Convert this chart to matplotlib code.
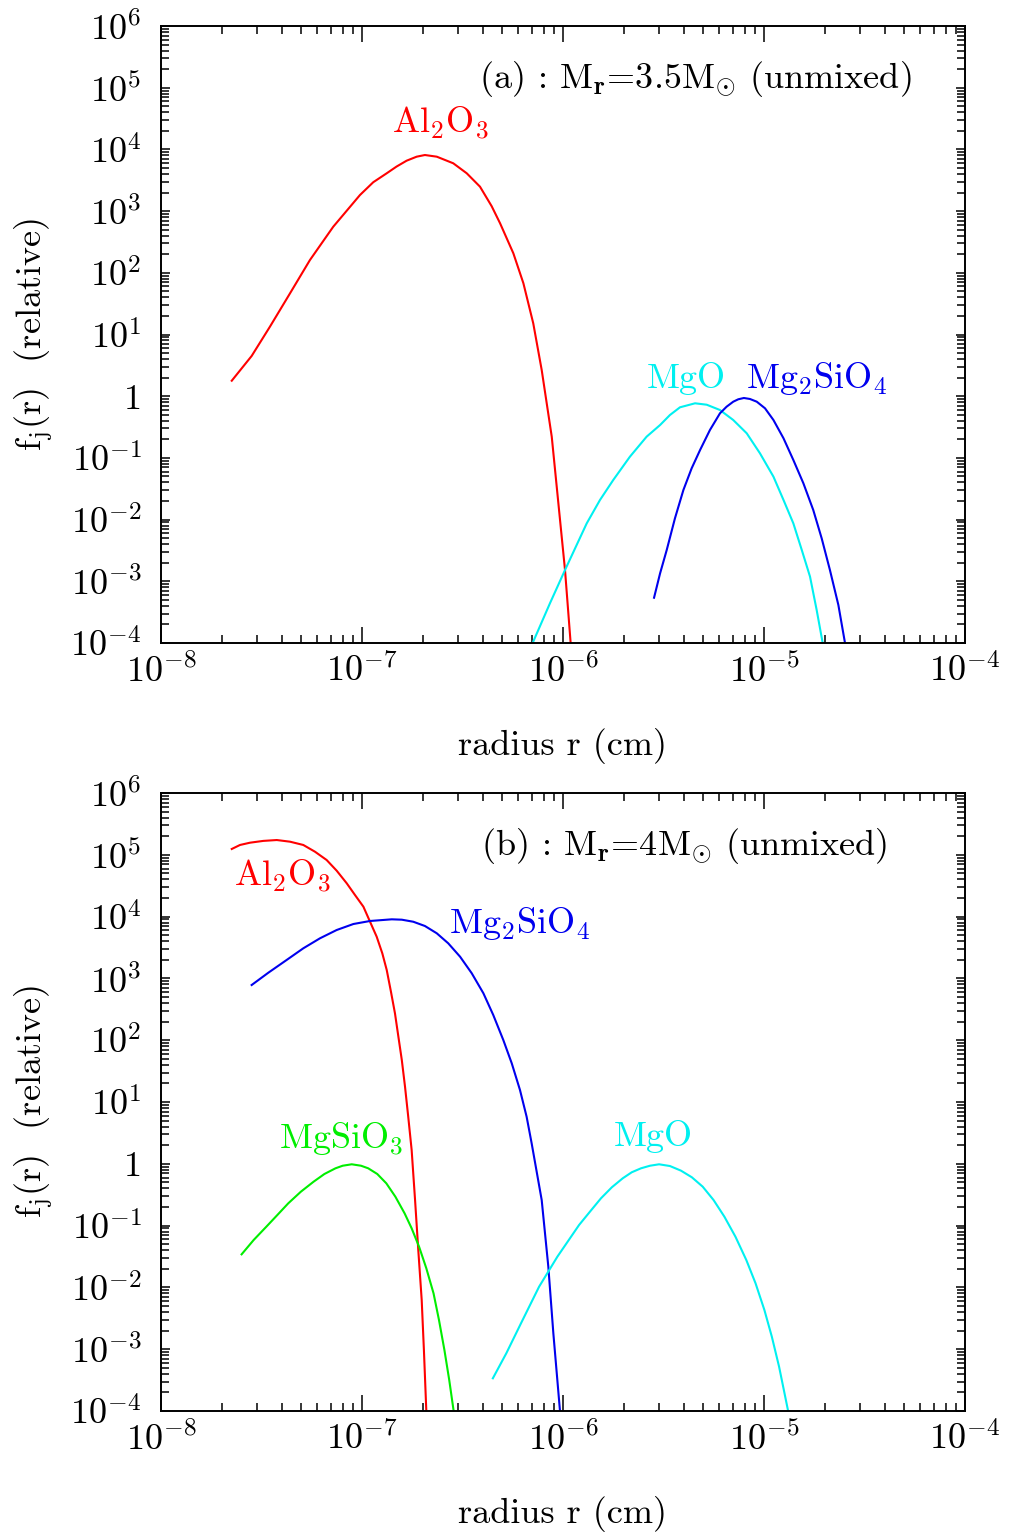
import numpy as np
import matplotlib
matplotlib.use("Agg")
import matplotlib.pyplot as plt
from matplotlib.ticker import LogLocator, FuncFormatter, NullFormatter

plt.rcParams['font.family'] = 'cmr10'
plt.rcParams['mathtext.fontset'] = 'cm'
plt.rcParams['axes.unicode_minus'] = False
plt.rcParams['axes.formatter.use_mathtext'] = True

# ---- size distributions, log10(radius / cm) and log10(f_j) ----
# panel (a): M_r = 3.5 Msun
a_al2o3_logr = [-7.648, -7.549, -7.458, -7.358, -7.259, -7.143, -7.010, -6.944, -6.877,
                -6.828, -6.778, -6.728, -6.687, -6.628, -6.546, -6.479, -6.413, -6.355,
                -6.313, -6.247, -6.197, -6.148, -6.106, -6.056, -6.023, -5.990, -5.962]
a_al2o3_logf = [0.251, 0.652, 1.127, 1.668, 2.207, 2.747, 3.261, 3.468, 3.613,
                3.722, 3.817, 3.882, 3.909, 3.882, 3.775, 3.613, 3.396, 3.080,
                2.802, 2.316, 1.830, 1.181, 0.425, -0.656, -1.736, -2.817, -4.0]

a_mgo_logr = [-6.151, -6.065, -5.990, -5.882, -5.816, -5.750, -5.667, -5.584, -5.517,
              -5.468, -5.418, -5.343, -5.285, -5.219, -5.153, -5.086, -5.020, -4.953,
              -4.903, -4.854, -4.812, -4.771, -4.738, -4.708]
a_mgo_logf = [-4.0, -3.357, -2.817, -2.061, -1.682, -1.358, -0.980, -0.656, -0.467,
              -0.305, -0.180, -0.115, -0.138, -0.224, -0.386, -0.601, -0.926, -1.304,
              -1.682, -2.061, -2.493, -2.925, -3.465, -4.0]

a_mg2sio4_logr = [-5.547, -5.517, -5.484, -5.443, -5.401, -5.360, -5.318, -5.269, -5.219,
                  -5.186, -5.153, -5.128, -5.100, -5.070, -5.036, -4.995, -4.953, -4.903,
                  -4.854, -4.804, -4.755, -4.713, -4.672, -4.630, -4.597]
a_mg2sio4_logf = [-3.266, -2.871, -2.493, -1.979, -1.520, -1.169, -0.872, -0.548, -0.277,
                  -0.170, -0.089, -0.050, -0.029, -0.045, -0.089, -0.196, -0.386, -0.682,
                  -1.034, -1.412, -1.844, -2.304, -2.817, -3.384, -4.0]

# panel (b): M_r = 4 Msun
b_al2o3_logr = [-7.648, -7.607, -7.557, -7.491, -7.424, -7.358, -7.292, -7.234, -7.176,
                -7.126, -7.076, -7.035, -6.993, -6.960, -6.927, -6.899, -6.877, -6.856,
                -6.836, -6.819, -6.802, -6.786, -6.770, -6.753, -6.736, -6.720, -6.703,
                -6.692, -6.680]
b_al2o3_logf = [5.094, 5.159, 5.196, 5.225, 5.239, 5.212, 5.159, 5.050, 4.916,
                4.743, 4.539, 4.350, 4.160, 3.917, 3.675, 3.406, 3.136, 2.785,
                2.435, 2.057, 1.680, 1.248, 0.762, 0.223, -0.586, -1.395, -2.204,
                -3.013, -4.0]

b_mg2sio4_logr = [-7.549, -7.466, -7.375, -7.292, -7.209, -7.126, -7.043, -6.960, -6.852,
                  -6.802, -6.745, -6.687, -6.628, -6.571, -6.512, -6.454, -6.396, -6.347,
                  -6.297, -6.255, -6.214, -6.181, -6.156, -6.106, -6.073, -6.048, -6.015]
b_mg2sio4_logf = [2.893, 3.092, 3.298, 3.487, 3.649, 3.783, 3.880, 3.929, 3.956,
                  3.950, 3.917, 3.848, 3.730, 3.568, 3.351, 3.083, 2.759, 2.408,
                  2.003, 1.626, 1.194, 0.762, 0.332, -0.586, -1.665, -2.744, -4.0]

b_mgsio3_logr = [-7.599, -7.539, -7.476, -7.421, -7.367, -7.304, -7.241, -7.187, -7.132,
                 -7.096, -7.051, -7.005, -6.969, -6.924, -6.879, -6.834, -6.788, -6.753,
                 -6.716, -6.680, -6.644, -6.617, -6.590, -6.566, -6.544]
b_mgsio3_logf = [-1.465, -1.233, -1.018, -0.828, -0.640, -0.451, -0.290, -0.165, -0.073,
                 -0.031, -0.008, -0.031, -0.073, -0.165, -0.316, -0.532, -0.802, -1.044,
                 -1.342, -1.691, -2.097, -2.528, -3.013, -3.499, -4.0]

b_mgo_logr = [-6.349, -6.282, -6.209, -6.119, -6.028, -5.920, -5.866, -5.811, -5.757,
              -5.703, -5.658, -5.612, -5.567, -5.522, -5.468, -5.413, -5.359, -5.305,
              -5.251, -5.197, -5.142, -5.088, -5.042, -4.998, -4.961, -4.925, -4.903,
              -4.880]
b_mgo_logf = [-3.471, -3.066, -2.581, -1.989, -1.503, -0.990, -0.775, -0.558, -0.380,
              -0.235, -0.137, -0.073, -0.031, -0.008, -0.036, -0.111, -0.218, -0.370,
              -0.586, -0.856, -1.180, -1.557, -1.934, -2.366, -2.798, -3.283, -3.633,
              -4.0]

# axis ranges
x_range = (1e-8, 1e-4)
y_range = (1e-4, 1e6)

# species labels: text, colour, log10 r (centre), log10 f (baseline)
a_labels = [(r'Al$_2$O$_3$', 'red', -6.612, 4.266),
            (r'MgO', 'cyan', -5.386, 0.133),
            (r'Mg$_2$SiO$_4$', 'blue', -4.736, 0.133)]
b_labels = [(r'Al$_2$O$_3$', 'red', -7.395, 4.484),
            (r'Mg$_2$SiO$_4$', 'blue', -6.216, 3.735),
            (r'MgSiO$_3$', 'lime', -7.102, 0.256),
            (r'MgO', 'cyan', -5.550, 0.288)]

a_title = r'(a) : M$_{\mathbf{r}}$=3.5M$_{\odot}$ (unmixed)'
b_title = r'(b) : M$_{\mathbf{r}}$=4M$_{\odot}$ (unmixed)'

colors = {'red': '#ff0000', 'blue': '#0000ee', 'cyan': '#00f0f0', 'lime': '#00ee00'}

panels = [
    dict(curves=[(a_al2o3_logr, a_al2o3_logf, 'red'),
                 (a_mgo_logr, a_mgo_logf, 'cyan'),
                 (a_mg2sio4_logr, a_mg2sio4_logf, 'blue')],
         labels=a_labels, title=a_title, title_x=0.664,
         rect=[161 / 1014, 1 - 643 / 1535, 804 / 1014, 617 / 1535]),
    dict(curves=[(b_al2o3_logr, b_al2o3_logf, 'red'),
                 (b_mg2sio4_logr, b_mg2sio4_logf, 'blue'),
                 (b_mgsio3_logr, b_mgsio3_logf, 'lime'),
                 (b_mgo_logr, b_mgo_logf, 'cyan')],
         labels=b_labels, title=b_title, title_x=0.651,
         rect=[161 / 1014, 1 - 1411 / 1535, 804 / 1014, 618 / 1535]),
]


def pow_label(v, pos):
    e = int(round(np.log10(v)))
    if e == 0:
        return '1'
    return r'$10^{%d}$' % e


fs = 26
fig = plt.figure(figsize=(10.14, 15.35), dpi=100)

for p in panels:
    ax = fig.add_axes(p['rect'])
    ax.set_xscale('log')
    ax.set_yscale('log')
    ax.set_xlim(*x_range)
    ax.set_ylim(*y_range)

    for lr, lf, c in p['curves']:
        ax.plot(10 ** np.array(lr), 10 ** np.array(lf), color=colors[c], lw=1.5,
                solid_joinstyle='round', clip_on=True)

    for txt, c, lx, ly in p['labels']:
        ax.text(10 ** lx, 10 ** ly, txt, color=colors[c], fontsize=fs,
                ha='center', va='baseline')

    ax.text(p['title_x'], 0.8995, p['title'], transform=ax.transAxes,
            fontsize=fs, ha='center', va='baseline')

    ax.xaxis.set_major_locator(LogLocator(base=10, numticks=10))
    ax.xaxis.set_minor_locator(LogLocator(base=10, subs=np.arange(2, 10), numticks=100))
    ax.yaxis.set_major_locator(LogLocator(base=10, numticks=20))
    ax.yaxis.set_minor_locator(LogLocator(base=10, subs=np.arange(2, 10), numticks=100))
    ax.xaxis.set_major_formatter(FuncFormatter(pow_label))
    ax.yaxis.set_major_formatter(FuncFormatter(pow_label))
    ax.xaxis.set_minor_formatter(NullFormatter())
    ax.yaxis.set_minor_formatter(NullFormatter())

    ax.tick_params(which='both', direction='in', top=True, right=True, width=1.1,
                   labelsize=fs)
    ax.tick_params(axis='x', which='major', length=11.5, pad=8)
    ax.tick_params(axis='x', which='minor', length=5.8)
    ax.tick_params(axis='y', which='major', length=6.5, pad=14)
    ax.tick_params(axis='y', which='minor', length=5.8)
    for s in ax.spines.values():
        s.set_linewidth(1.4)

    ax.set_xlabel('radius r (cm)', fontsize=fs)
    ax.xaxis.set_label_coords(0.5, -(728 - 643) / 617)
    ax.xaxis.label.set_va('top')
    ax.set_ylabel(r'f$_{\rm j}$(r)  (relative)', fontsize=fs)
    ax.yaxis.set_label_coords(-0.158, 0.5)
    ax.yaxis.label.set_va('center')

fig.savefig('out.png', dpi=100)
